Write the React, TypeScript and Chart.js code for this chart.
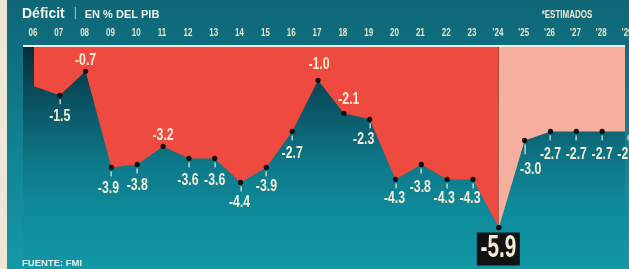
import React, { useEffect, useRef } from "react";
import { Chart, registerables } from "chart.js";

Chart.register(...registerables);

const years = [2006, 2007, 2008, 2009, 2010, 2011, 2012, 2013, 2014, 2015, 2016, 2017, 2018, 2019, 2020, 2021, 2022, 2023, 2024, 2025, 2026, 2027, 2028, 2029];
const deficit = [-1.2, -1.5, -0.7, -3.9, -3.8, -3.2, -3.6, -3.6, -4.4, -3.9, -2.7, -1.0, -2.1, -2.3, -4.3, -3.8, -4.3, -4.3, -5.9, -3.0, -2.7, -2.7, -2.7, -2.7];
const tickLabels = ["06", "07", "08", "09", "10", "11", "12", "13", "14", "15", "16", "17", "18", "19", "20", "21", "22", "23", "\u201924", "\u201925", "\u201926", "\u201927", "\u201928", "\u201929"];
const firstEstimateYear = 2024;
const highlightYear = 2024;
const unlabeledYears = [2006];

const title = "Déficit";
const subtitle = "EN % DEL PIB";
const estimateNote = "*ESTIMADOS";
const source = "FUENTE: FMI";

// label placement styles (not data)
const labelStyle: { dx: number; dy: number; tick: number }[] = [
  { dx: 0, dy: 21, tick: 5 },
  { dx: 0, dy: 21, tick: 5 },
  { dx: 0, dy: -11, tick: 0 },
  { dx: -3, dy: 21, tick: 5 },
  { dx: 0, dy: 21, tick: 5 },
  { dx: 0, dy: -11, tick: 0 },
  { dx: -1, dy: 22, tick: 5 },
  { dx: 0, dy: 22, tick: 5 },
  { dx: -1, dy: 20, tick: 5 },
  { dx: 0, dy: 19, tick: 5 },
  { dx: 0, dy: 22, tick: 5 },
  { dx: 1, dy: -16, tick: 0 },
  { dx: 5, dy: -14, tick: 0 },
  { dx: -6, dy: 20, tick: 5 },
  { dx: -1, dy: 19, tick: 5 },
  { dx: -1, dy: 23, tick: 5 },
  { dx: -3, dy: 19, tick: 5 },
  { dx: -3, dy: 19, tick: 5 },
  { dx: -1, dy: 21, tick: 0 },
  { dx: 6, dy: 29, tick: 10 },
  { dx: 0, dy: 23, tick: 5 },
  { dx: 0, dy: 23, tick: 5 },
  { dx: 0, dy: 23, tick: 5 },
  { dx: 0, dy: 23, tick: 5 },
];

const FONT = '"Liberation Sans", Arial, sans-serif';

function stretchedText(ctx: CanvasRenderingContext2D, text: string, x: number, y: number, font: string, color: string, sx: number, sy: number, align: CanvasTextAlign = "center") {
  ctx.save();
  ctx.translate(x, y);
  ctx.scale(sx, sy);
  ctx.font = font;
  ctx.fillStyle = color;
  ctx.textAlign = align;
  ctx.textBaseline = "middle";
  ctx.fillText(text, 0, 0);
  ctx.restore();
}

const decorPlugin = {
  id: "decor",
  beforeDraw(chart: any) {
    const { ctx, width, height, chartArea } = chart;
    ctx.save();
    ctx.fillStyle = "#efe7d6";
    ctx.fillRect(0, 0, width, height);
    const g1 = ctx.createLinearGradient(0, 0, 0, height);
    g1.addColorStop(0, "#0e6677");
    g1.addColorStop(0.4, "#107a8a");
    g1.addColorStop(1, "#1599a7");
    ctx.fillStyle = g1;
    ctx.fillRect(7, 0, width - 7, height);
    const g2 = ctx.createLinearGradient(0, chartArea.top, 0, chartArea.bottom);
    g2.addColorStop(0, "#062c38");
    g2.addColorStop(0.25, "#0a5262");
    g2.addColorStop(0.55, "#0d7a8a");
    g2.addColorStop(0.8, "#0f8e9d");
    g2.addColorStop(1, "#1196a4");
    ctx.fillStyle = g2;
    ctx.fillRect(chartArea.left, chartArea.top, chartArea.right - chartArea.left, chartArea.bottom - chartArea.top);
    ctx.restore();
  },
  afterDraw(chart: any) {
    const { ctx, chartArea } = chart;
    const xs = chart.scales.x;
    const ys = chart.scales.y;
    ctx.save();
    // top rule
    ctx.fillStyle = "#f3ede2";
    ctx.fillRect(chartArea.left, chartArea.top - 2, chartArea.right - chartArea.left, 2);
    // title
    ctx.font = `bold 14px ${FONT}`;
    ctx.fillStyle = "#eef3ee";
    ctx.textAlign = "left";
    ctx.textBaseline = "alphabetic";
    ctx.fillText(title, 22, 18);
    const tw = ctx.measureText(title).width;
    ctx.fillStyle = "#8fbcc2";
    ctx.fillRect(22 + tw + 10, 7, 1.2, 12);
    ctx.font = `bold 11px ${FONT}`;
    ctx.fillStyle = "#eef3ee";
    ctx.fillText(subtitle, 22 + tw + 20, 18);
    stretchedText(ctx, estimateNote, 567, 15, `bold 10px ${FONT}`, "#f1e6cf", 0.8, 1.05);
    // x tick labels
    years.forEach((yr, i) => {
      const px = xs.getPixelForValue(yr);
      stretchedText(ctx, tickLabels[i], px - 1, 33, `bold 10px ${FONT}`, "#efe3c6", 0.8, 1.05);
    });
    // source
    ctx.font = `bold 9.5px ${FONT}`;
    ctx.fillStyle = "#e9f1ee";
    ctx.textAlign = "left";
    ctx.textBaseline = "alphabetic";
    ctx.fillText(source, 22, 266);
    // value labels
    years.forEach((yr, i) => {
      if (unlabeledYears.includes(yr)) return;
      const v = deficit[i];
      const px = xs.getPixelForValue(yr);
      const py = ys.getPixelForValue(v);
      const st = labelStyle[i];
      const txt = v.toFixed(1);
      if (yr === highlightYear) {
        ctx.fillStyle = "#121212";
        ctx.fillRect(px - 22, py + 5, 43, 33);
        stretchedText(ctx, txt, px - 0.5, py + 21, `bold 28px ${FONT}`, "#f4ebd8", 0.74, 1.1);
        return;
      }
      if (st.tick > 0) {
        ctx.fillStyle = "#f1e8d2";
        ctx.fillRect(Math.round(px) - 0.5, py + 4, 1.2, st.tick);
      }
      stretchedText(ctx, txt, px + st.dx, py + st.dy, `bold 15px ${FONT}`, "#f4ecd6", 0.82, 1.1);
    });
    ctx.restore();
  },
};

export default function App() {
  const ref = useRef<HTMLCanvasElement | null>(null);
  useEffect(() => {
    document.body.style.margin = "0";
    const canvas = ref.current!;
    const est = years.indexOf(firstEstimateYear);
    const pts = years.map((x, i) => ({ x, y: deficit[i] }));
    const actual = pts.slice(0, est + 1);
    const estimated = pts.slice(est);
    const chart = new Chart(canvas, {
      type: "line",
      data: {
        datasets: [
          {
            data: actual,
            fill: "end",
            backgroundColor: "#ee4a3f",
            borderWidth: 0,
            borderColor: "rgba(0,0,0,0)",
            pointRadius: actual.map((p) => (unlabeledYears.includes(p.x) ? 0 : 2.6)),
            pointBackgroundColor: "#111",
            pointBorderWidth: 0,
          },
          {
            data: estimated,
            fill: "end",
            backgroundColor: "#f6ae9d",
            borderWidth: 0,
            borderColor: "rgba(0,0,0,0)",
            pointRadius: 2.6,
            pointBackgroundColor: "#111",
            pointBorderWidth: 0,
          },
        ],
      },
      options: {
        animation: false,
        responsive: false,
        layout: { padding: { left: 23, top: 47, right: 0, bottom: 0 } },
        plugins: { legend: { display: false }, tooltip: { enabled: false } },
        scales: {
          x: { type: "linear", display: false, min: 2005.577, max: 2028.885 },
          y: { type: "linear", display: false, min: -7.147, max: 0.108 },
        },
      },
      plugins: [decorPlugin],
    });
    return () => chart.destroy();
  }, []);
  return <canvas ref={ref} width={629} height={269} style={{ display: "block", width: 629, height: 269 }} />;
}
